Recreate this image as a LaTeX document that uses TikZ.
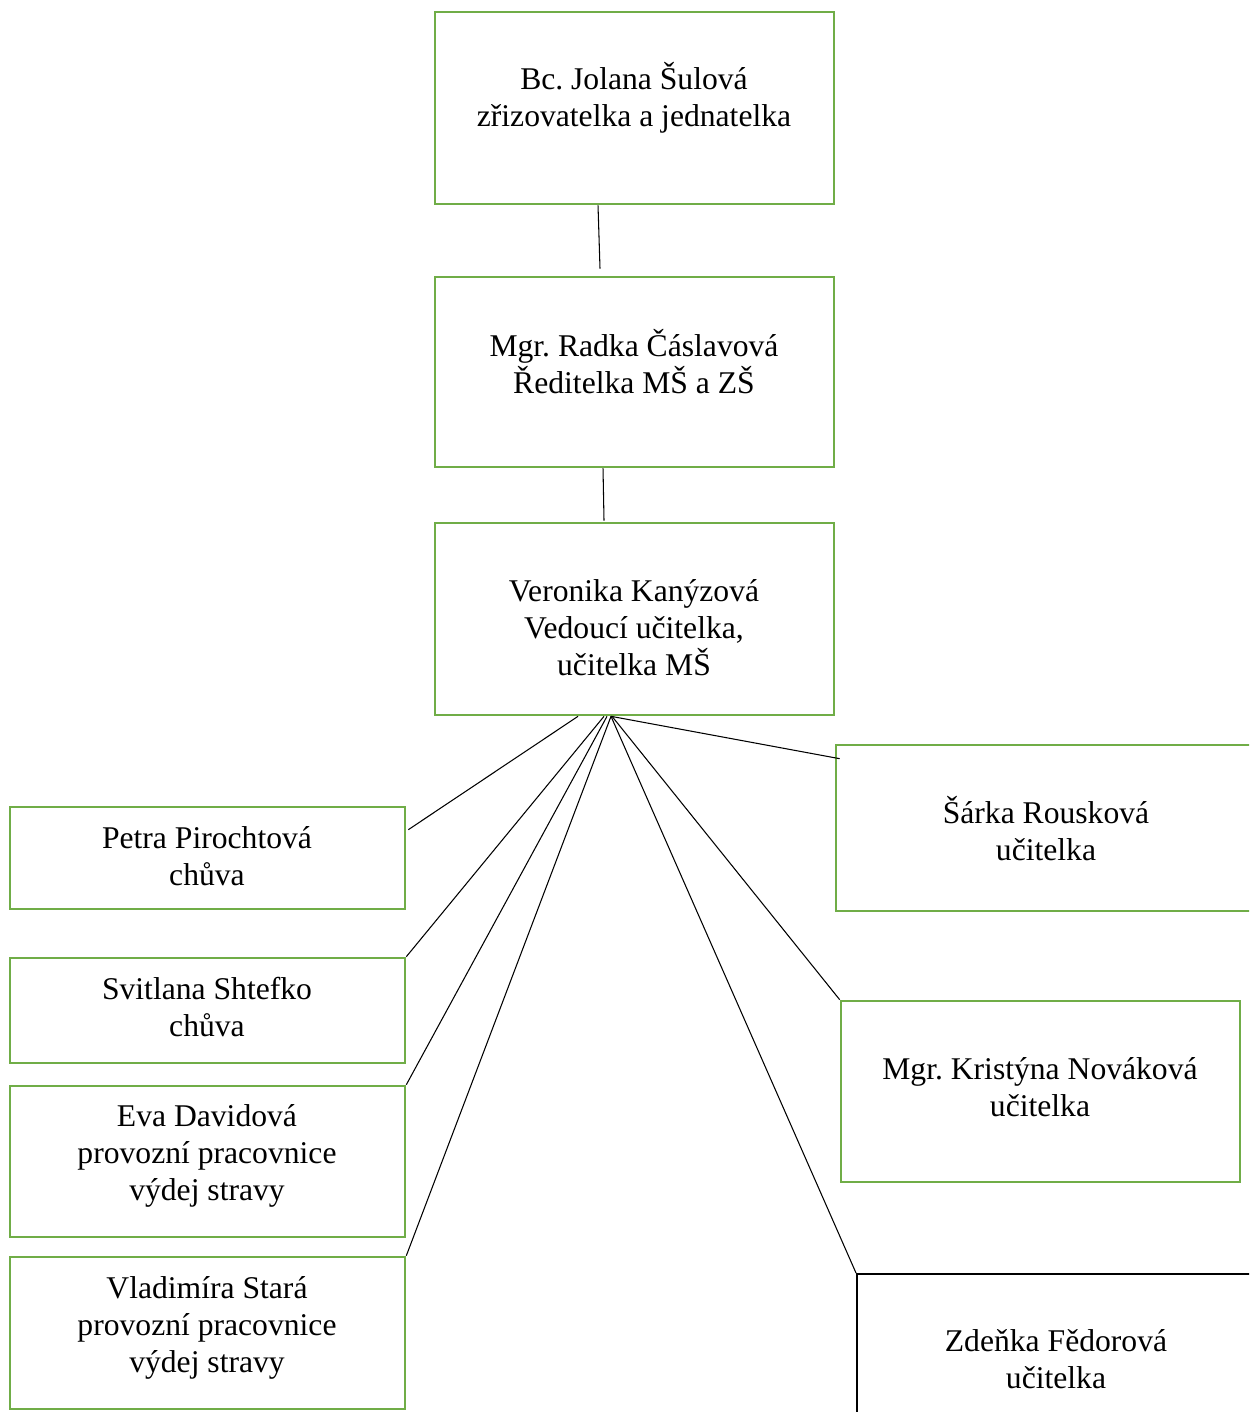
\documentclass[tikz,border=0pt]{standalone}
\usepackage{fontspec}
\setmainfont{Liberation Serif}
\usepackage{xcolor}
\usetikzlibrary{fit}
\definecolor{boxgreen}{RGB}{112,173,71}
\frenchspacing

\begin{document}
\begin{tikzpicture}[x=0.02cm, y=-0.02cm,
            box/.style={draw=boxgreen, line width=1.5pt, inner sep=0pt, fit={#1}},
            darkbox/.style={draw=black, line width=1.1pt, inner sep=0pt, fit={#1}},
            txt/.style={align=center, inner sep=0pt, font=\fontsize{18}{21}\selectfont},
            link/.style={draw=black, line width=0.6pt}]
        \useasboundingbox (0,0) rectangle (1249,1412);
        \clip (0,0) rectangle (1249,1412);

        \node[box={(435,12) (834,204)}] (sulova) {};
        \node[box={(435,277) (834,467)}] (caslavova) {};
        \node[box={(435,523) (834,715)}] (kanyzova) {};

        \node[box={(10,807) (405,909)}] (pirochtova) {};
        \node[box={(10,958) (405,1063)}] (shtefko) {};
        \node[box={(10,1086) (405,1237)}] (davidova) {};
        \node[box={(10,1257) (405,1409)}] (stara) {};

        \node[box={(836,745) (1262,911)}] (rouskova) {};
        \node[box={(841,1001) (1240,1182)}] (novakova) {};
        \node[darkbox={(857,1274) (1262,1430)}] (fedorova) {};

        \node[txt] (sulova-t) at (634,98) {Bc. Jolana Šulová\\zřizovatelka a jednatelka};
        \node[txt] (caslavova-t) at (634,362) {Mgr. Radka Čáslavová\\Ředitelka MŠ a ZŠ};
        \node[txt] (kanyzova-t) at (634,628) {Veronika Kanýzová\\Vedoucí učitelka,\\učitelka MŠ};
        \node[txt] (pirochtova-t) at (207,856) {Petra Pirochtová\\chůva};
        \node[txt] (shtefko-t) at (207,1007) {Svitlana Shtefko\\chůva};
        \node[txt] (davidova-t) at (207,1156) {Eva Davidová\\provozní pracovnice\\výdej stravy};
        \node[txt] (stara-t) at (207,1328) {Vladimíra Stará\\provozní pracovnice\\výdej stravy};
        \node[txt] (rouskova-t) at (1046,829) {Šárka Rousková\\učitelka};
        \node[txt] (novakova-t) at (1040,1087) {Mgr. Kristýna Nováková\\učitelka};
        \node[txt] (fedorova-t) at (1056,1359) {Zdeňka Fědorová\\učitelka};

        \draw[link] ([xshift=-0.73cm]sulova.south) -- ([shift={(-0.69cm,0.14cm)}]caslavova.north);
        \draw[link] ([xshift=-0.63cm]caslavova.south) -- ([shift={(-0.61cm,0.02cm)}]kanyzova.north);

        \draw[link] ([xshift=-1.13cm]kanyzova.south) -- ([shift={(0.04cm,-0.48cm)}]pirochtova.north east);
        \draw[link] ([xshift=-0.61cm]kanyzova.south) -- (shtefko.north east);
        \draw[link] ([xshift=-0.55cm]kanyzova.south) -- (davidova.north east);
        \draw[link] ([xshift=-0.47cm]kanyzova.south) -- (stara.north east);
        \draw[link] ([xshift=-0.47cm]kanyzova.south) -- ([shift={(0.1cm,-0.3cm)}]rouskova.north west);
        \draw[link] ([xshift=-0.45cm]kanyzova.south) -- (novakova.north west);
        \draw[link] ([xshift=-0.47cm]kanyzova.south) -- (fedorova.north west);
    \end{tikzpicture}
\end{document}
